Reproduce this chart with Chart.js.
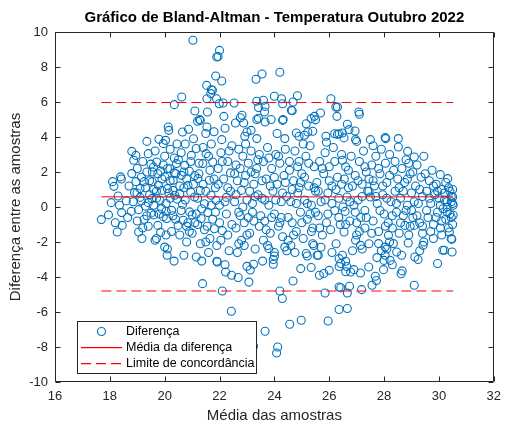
<!DOCTYPE html>
<html>
<head>
<meta charset="utf-8">
<script src="https://cdn.jsdelivr.net/npm/chart.js@4.4.0/dist/chart.umd.min.js"></script>
<style>
html,body{margin:0;padding:0;background:#fff;}
#wrap{width:508px;height:425px;}
</style>
</head>
<body>
<div id="wrap"><canvas id="c" width="508" height="425"></canvas></div>
<script>
// ---- data ----
const chartTitle = 'Gráfico de Bland-Altman - Temperatura Outubro 2022';
const xLabel = 'Média das amostras';
const yLabel = 'Diferença entre as amostras';
const legendLabels = ['Diferença', 'Média da diferença', 'Limite de concordância'];
const meanDiff = 0.58;
const upperLimit = 5.97;
const lowerLimit = -4.80;
const xTickRange = [16, 32, 2];
const yTickRange = [-10, 10, 2];

const pts17 = [[17.69,-0.72],[18.15,1.18],[18.27,-1.43],[18.30,0.63],[18.39,1.72],[18.42,1.60],[18.43,-0.32],[18.45,-1.05],[17.95,-0.45],[18.05,0.25],[18.20,-0.90],[18.35,0.10],[18.10,1.45]];
const pts18 = [[18.78,-0.25],[18.80,1.91],[18.80,3.18],[18.87,2.67],[18.90,0.82],[18.99,0.80],[19.05,-1.43],[19.17,-1.80],[19.35,3.75],[18.60,0.35],[18.65,-0.60],[18.70,1.20],[18.85,0.30],[18.95,1.45],[19.00,2.20],[19.05,-0.15],[19.10,0.55],[19.15,1.70],[19.20,2.60],[19.25,-0.70],[19.30,1.10],[19.30,0.05],[19.35,2.00],[19.40,-1.10],[19.40,3.05],[19.45,0.70],[19.45,1.50],[19.50,-0.35],[19.50,2.45],[19.20,-1.20],[18.95,2.95],[19.10,1.05],[19.35,-0.50],[19.00,-0.80]];
const pts19 = [[19.53,0.48],[19.59,2.29],[19.65,-1.90],[19.70,-1.80],[19.71,2.57],[19.77,1.24],[19.79,3.87],[19.83,0.38],[19.89,-0.09],[19.95,3.62],[20.00,-2.29],[20.01,1.72],[20.03,3.81],[20.07,-0.66],[20.09,-2.76],[20.10,-2.40],[20.13,4.57],[20.15,4.38],[20.19,2.19],[20.25,-0.19],[20.31,1.53],[20.34,-3.09],[20.35,5.85],[20.37,0.67],[20.43,2.48],[20.49,-1.05],[19.55,1.45],[19.60,-0.45],[19.65,3.20],[19.70,0.90],[19.75,-1.05],[19.85,2.05],[19.90,1.60],[19.95,-0.55],[20.00,2.90],[20.05,0.20],[20.10,1.05],[20.20,3.30],[20.25,-1.40],[20.30,0.95],[20.35,2.80],[20.40,-0.70],[20.45,3.60],[20.20,0.50],[19.60,0.10],[20.40,1.90],[19.85,-1.45],[20.05,-1.60]];
const pts20 = [[20.55,0.76],[20.61,1.81],[20.62,6.29],[20.65,4.29],[20.67,-0.76],[20.70,-2.76],[20.73,2.38],[20.80,-2.00],[20.85,1.24],[20.87,4.44],[20.91,-0.28],[20.97,2.95],[21.03,9.53],[21.09,0.57],[21.10,5.49],[21.15,-2.86],[21.15,3.34],[21.20,4.90],[21.21,1.62],[21.27,5.00],[21.30,4.95],[21.30,-2.10],[21.33,-0.66],[21.35,-3.09],[21.38,-4.38],[21.39,2.48],[21.45,0.19],[21.50,-2.00],[21.51,3.05],[20.55,-1.60],[20.60,3.10],[20.65,0.15],[20.75,3.60],[20.80,-1.10],[20.90,2.05],[20.95,0.85],[21.00,-1.50],[21.05,3.90],[21.10,1.80],[21.15,-0.40],[21.25,2.50],[21.30,0.95],[21.40,1.30],[21.45,-1.30],[21.50,4.20],[20.70,1.10],[21.00,-0.45],[20.85,-0.90],[21.20,-1.00]];
const pts21 = [[21.53,6.95],[21.54,6.19],[21.54,4.57],[21.56,5.43],[21.57,-0.32],[21.63,1.53],[21.68,6.48],[21.69,0.67],[21.70,6.70],[21.74,6.67],[21.75,2.57],[21.81,-1.24],[21.86,7.49],[21.87,0.38],[21.89,6.19],[21.90,8.57],[21.90,-3.10],[21.92,-3.14],[21.95,8.60],[21.99,5.90],[22.00,8.95],[22.08,7.20],[22.08,3.85],[22.10,-4.80],[22.13,5.94],[22.16,5.18],[22.20,-3.30],[22.22,-3.71],[22.43,-5.96],[22.44,-3.90],[21.60,2.90],[21.65,-1.80],[21.70,3.60],[21.75,-0.70],[21.80,4.30],[21.85,1.10],[21.90,-2.20],[21.95,2.20],[22.00,0.10],[22.05,3.10],[22.10,-1.35],[22.15,1.60],[22.20,4.50],[22.25,-0.40],[22.30,2.60],[22.35,-2.50],[22.40,0.90],[22.45,3.50],[22.30,-1.60],[22.40,1.95],[22.00,-0.90],[21.60,-2.60],[22.25,0.55]];
const pts22 = [[22.53,5.94],[22.58,4.80],[22.68,-4.03],[22.70,-2.10],[22.76,5.10],[22.80,-1.90],[22.82,5.24],[22.88,4.80],[22.90,-2.20],[22.92,4.04],[23.00,4.29],[23.00,-3.39],[23.07,-4.29],[23.12,-3.60],[23.15,4.38],[23.24,-3.27],[23.24,-7.96],[23.33,7.30],[23.36,6.04],[23.36,5.00],[23.36,3.91],[23.42,5.68],[23.42,5.07],[22.55,0.30],[22.60,-1.20],[22.60,2.40],[22.65,1.50],[22.70,3.30],[22.75,-0.50],[22.80,0.95],[22.85,2.90],[22.90,-0.90],[22.95,1.80],[23.00,0.40],[23.05,2.50],[23.10,-1.50],[23.15,3.20],[23.20,-0.30],[23.25,1.30],[23.30,-2.40],[23.35,2.20],[23.40,0.70],[23.45,-1.10],[23.45,3.00],[22.65,-2.60],[23.05,-0.60],[23.30,1.90],[22.95,3.60],[23.20,0.20]];
const pts23 = [[23.55,7.60],[23.57,-3.09],[23.60,6.10],[23.60,-1.90],[23.64,5.43],[23.66,5.75],[23.66,4.86],[23.66,-7.10],[23.80,-2.38],[23.88,5.00],[23.96,-3.00],[23.96,-3.27],[24.00,6.33],[24.00,-2.80],[24.00,-2.60],[24.08,-8.34],[24.12,-8.00],[24.20,7.70],[24.20,-4.80],[24.26,6.19],[24.29,-5.23],[24.30,5.90],[24.30,4.95],[24.32,5.00],[24.38,3.91],[24.38,-2.29],[24.45,-2.50],[23.55,0.50],[23.60,2.60],[23.65,-0.80],[23.70,1.60],[23.75,3.40],[23.80,0.10],[23.85,-1.50],[23.90,2.20],[23.95,0.90],[24.00,-0.40],[24.05,3.00],[24.10,1.30],[24.15,-1.10],[24.20,2.50],[24.25,0.30],[24.30,-1.70],[24.35,1.80],[24.40,3.30],[24.45,0.60],[23.75,-2.20],[24.10,4.20],[23.85,1.20],[24.25,-0.60]];
const pts24 = [[24.50,-1.90],[24.56,-6.70],[24.60,-2.20],[24.62,5.53],[24.65,5.50],[24.68,6.00],[24.68,-4.23],[24.80,4.23],[24.84,6.36],[24.90,4.04],[24.96,-3.52],[24.98,-6.47],[25.10,4.10],[25.16,4.76],[25.16,-2.66],[25.20,-2.80],[25.22,4.29],[25.34,5.05],[25.34,-3.46],[25.40,4.33],[25.40,-2.10],[25.44,-2.20],[25.46,5.18],[25.50,4.98],[24.55,2.10],[24.60,0.30],[24.65,-0.90],[24.70,1.50],[24.75,3.20],[24.80,-1.40],[24.85,0.80],[24.90,2.60],[24.95,-0.30],[25.00,1.90],[25.05,-1.80],[25.10,0.40],[25.15,2.90],[25.20,-0.70],[25.25,1.20],[25.30,3.50],[25.35,0.10],[25.40,-1.20],[25.45,2.30],[25.50,0.90],[24.75,-2.60],[25.05,3.60],[25.30,-0.40],[24.90,1.10]];
const pts25 = [[25.56,-2.76],[25.60,-2.76],[25.64,-3.90],[25.68,5.37],[25.80,-3.80],[25.85,-4.91],[25.88,4.04],[25.96,-6.51],[26.00,-3.62],[26.06,6.19],[26.20,4.19],[26.24,5.71],[26.28,5.18],[26.30,5.71],[26.30,4.15],[26.36,4.19],[26.36,-4.57],[26.36,-5.86],[26.36,-2.95],[26.36,-3.40],[26.42,-4.61],[26.42,-3.23],[26.48,-2.76],[26.48,4.23],[26.48,2.67],[25.55,1.40],[25.60,-0.50],[25.65,2.60],[25.70,0.30],[25.75,-1.60],[25.80,1.90],[25.85,3.10],[25.90,-0.90],[25.95,0.80],[26.00,2.30],[26.05,-1.30],[26.10,1.20],[26.15,3.40],[26.20,-0.20],[26.25,-2.10],[26.30,1.70],[26.35,0.50],[26.40,-1.00],[26.45,3.00],[25.70,-2.30],[26.10,-2.60],[25.90,3.70]];
const pts26 = [[26.54,3.95],[26.54,-1.43],[26.58,-0.25],[26.60,-3.10],[26.60,-3.70],[26.64,-3.40],[26.65,0.57],[26.66,4.73],[26.66,-4.91],[26.66,-5.80],[26.72,4.42],[26.74,-4.53],[26.78,-3.71],[26.90,-3.58],[26.90,0.10],[26.94,4.34],[26.96,3.85],[26.96,-1.90],[27.00,3.75],[27.00,-1.60],[27.08,5.43],[27.10,5.30],[27.14,-2.19],[27.14,-3.77],[27.18,-4.72],[27.20,-2.40],[27.44,-3.43],[27.50,3.85],[27.50,0.57],[26.55,1.60],[26.60,2.30],[26.70,1.10],[26.75,-0.80],[26.80,2.90],[26.85,-2.50],[26.95,1.80],[27.05,0.40],[27.10,2.60],[27.15,-0.60],[27.20,1.30],[27.25,3.20],[27.30,-1.20],[27.35,2.00],[27.40,0.90],[27.45,-2.10],[27.30,-0.20],[27.00,-0.90],[27.45,1.60]];
const pts27 = [[27.56,-4.47],[27.68,-3.96],[27.72,-4.20],[27.74,-2.89],[27.80,-2.09],[27.98,-3.58],[28.00,-3.05],[28.04,3.97],[28.04,-2.29],[28.04,-2.76],[28.06,3.91],[28.10,-2.40],[28.16,-1.62],[28.22,-3.05],[28.30,-3.30],[28.34,-2.09],[28.46,-2.57],[28.52,3.43],[28.52,3.91],[27.55,2.40],[27.60,-0.80],[27.65,1.20],[27.70,2.90],[27.75,0.20],[27.80,-1.40],[27.85,1.90],[27.90,3.30],[27.95,0.70],[28.00,-0.40],[28.05,2.50],[28.10,1.40],[28.15,-0.90],[28.20,3.00],[28.25,0.30],[28.30,-1.20],[28.35,2.10],[28.40,0.90],[28.45,-0.30],[28.50,1.60],[27.60,3.50],[28.20,-2.00],[27.90,-2.50]];
const pts28 = [[28.55,-1.50],[28.62,-3.81],[28.64,-2.76],[28.66,-3.65],[28.76,-1.05],[28.86,3.18],[28.88,-2.06],[29.10,2.86],[29.10,-4.47],[29.10,-1.05],[29.12,-2.86],[29.24,-3.00],[29.40,-1.50],[29.42,-2.19],[29.45,-2.00],[28.60,0.50],[28.65,2.20],[28.70,-0.50],[28.75,1.40],[28.80,2.70],[28.85,0.10],[28.90,-1.60],[28.95,1.90],[29.00,0.80],[29.05,-0.60],[29.15,1.20],[29.20,2.40],[29.25,0.20],[29.30,-0.90],[29.35,1.70],[29.40,0.60],[29.45,2.90],[29.30,-2.50],[28.90,2.50],[29.00,-0.20]];
const pts29 = [[29.80,-1.80],[29.95,-3.23],[30.05,1.85],[30.14,-2.47],[30.20,-2.47],[30.32,1.62],[30.38,-1.43],[30.48,-2.57],[30.50,0.57],[30.45,-1.80],[30.52,0.10],[30.52,-0.47],[30.47,-1.85],[29.55,0.90],[29.60,-0.60],[29.65,1.50],[29.70,0.20],[29.75,2.10],[29.80,-1.00],[29.85,0.70],[29.90,1.30],[29.95,-0.30],[30.00,0.50],[30.05,-1.20],[30.10,1.00],[30.15,-0.10],[30.20,0.80],[30.25,-0.70],[30.30,0.30],[30.35,1.10],[30.40,-0.40],[30.45,0.60],[30.50,-1.00],[30.40,0.90],[30.10,-0.80],[30.50,0.20]];
const ptsCore = [[19.15,0.35],[19.25,1.45],[19.40,0.25],[19.55,2.00],[19.60,1.00],[19.70,0.50],[19.75,1.90],[19.80,-0.40],[19.90,0.95],[19.95,2.40],[20.05,-0.25],[20.10,2.20],[20.15,0.80],[20.20,1.50],[20.30,-0.50],[20.35,1.95],[20.45,0.45],[20.50,2.70],[20.55,1.20],[20.60,-0.20],[20.70,2.00],[20.75,0.40],[20.80,1.60],[20.90,-1.40],[20.95,2.60],[21.05,1.30],[21.10,-0.90],[21.20,0.50],[21.25,1.90],[21.35,-0.10],[21.40,3.40],[21.50,0.90],[21.55,-1.10],[21.65,2.10],[21.70,0.10],[21.80,1.60],[21.85,-0.30],[21.95,1.30],[22.05,-1.90],[22.10,2.60],[22.20,0.30],[22.30,1.10],[22.35,3.20],[22.45,-1.00],[22.55,1.90],[22.60,0.70],[22.70,-0.30],[22.75,2.20],[22.85,0.00],[22.90,1.40],[23.00,-1.60],[23.10,0.90],[23.15,2.00],[23.25,-0.80],[23.30,0.60],[23.40,2.70],[23.50,-0.50],[23.55,1.50],[23.65,0.40],[23.70,-1.30],[23.80,2.80],[23.90,-0.60],[24.00,1.70],[24.05,0.40],[24.15,2.90],[24.20,-0.90],[24.30,0.80],[24.40,1.40],[24.50,-0.60],[24.55,2.60],[24.65,1.00],[24.70,-1.60],[24.80,0.20],[24.85,2.30],[24.95,1.40],[25.00,-0.90],[25.10,1.70],[25.20,0.20],[25.25,2.50],[25.35,-1.40],[25.45,1.10],[25.50,-0.30],[25.60,0.90],[25.65,-1.20],[25.75,2.20],[25.85,0.40],[25.95,-0.40],[26.00,1.50],[26.10,0.20],[26.20,2.60],[26.25,1.00],[26.35,-0.60],[26.45,1.30],[26.50,0.00],[26.60,-1.00],[26.70,2.10],[26.75,0.30],[26.85,1.20],[26.95,-0.30],[27.05,1.50],[27.10,-1.40],[27.20,0.60],[27.30,2.30],[27.35,-0.60],[27.45,0.90],[27.55,-1.50],[27.60,1.50],[27.70,0.60],[27.80,2.20],[27.85,-0.20],[27.95,1.20],[28.05,-1.10],[28.10,0.50],[28.20,1.80],[28.30,-0.50],[28.40,2.60],[28.45,0.20],[28.55,1.10],[28.60,-0.90],[28.70,0.90],[28.80,-0.20],[28.85,1.60],[28.95,-1.10],[29.05,2.00],[29.10,0.30],[29.20,-0.50],[29.30,1.00],[29.40,-1.10],[29.50,1.90],[29.55,-0.20],[29.65,0.50],[29.70,-1.40],[29.80,1.20],[29.90,-0.60],[29.95,0.90],[30.05,0.10],[30.10,-1.60],[30.20,0.40],[30.25,1.40],[30.30,-0.30],[30.35,-1.20],[30.45,0.30],[30.50,1.00],[30.30,0.00],[30.45,-0.60]];

const allPairs = [].concat(pts17, pts18, pts19, pts20, pts21, pts22, pts23, pts24, pts25, pts26, pts27, pts28, pts29, ptsCore);
const scatterData = allPairs.map(p => ({x: p[0], y: p[1]}));
const xMin = Math.min(...allPairs.map(p => p[0]));
const xMax = Math.max(...allPairs.map(p => p[0]));

// ---- styling ----
const FONT = "'Liberation Sans', Arial, Helvetica, sans-serif";
const BLUE = '#0072BD';
const RED = 'rgb(255,0,0)';
const AXIS = '#262626';

const framePlugin = {
  id: 'frame',
  afterDraw(chart) {
    const {ctx, chartArea: a, scales: {x, y}} = chart;
    ctx.save();
    ctx.strokeStyle = AXIS;
    ctx.lineWidth = 1;
    const L = Math.round(a.left) + 0.5, R = Math.round(a.right) - 0.5;
    const T = Math.round(a.top) + 0.5, B = Math.round(a.bottom) - 0.5;
    ctx.beginPath();
    ctx.rect(L, T, R - L, B - T);
    const tl = 5;
    x.ticks.forEach(t => {
      const px = Math.round(x.getPixelForValue(t.value)) + 0.5;
      ctx.moveTo(px, B); ctx.lineTo(px, B - tl);
      ctx.moveTo(px, T); ctx.lineTo(px, T + tl);
    });
    y.ticks.forEach(t => {
      const py = Math.round(y.getPixelForValue(t.value)) + 0.5;
      ctx.moveTo(L, py); ctx.lineTo(L + tl, py);
      ctx.moveTo(R, py); ctx.lineTo(R - tl, py);
    });
    ctx.stroke();
    ctx.restore();

    // legend box (bottom-left, inside axes)
    ctx.save();
    const bx = 77.5, by = 321.5, bw = 179, bh = 52;
    ctx.fillStyle = '#ffffff';
    ctx.fillRect(bx, by, bw, bh);
    ctx.strokeStyle = AXIS;
    ctx.lineWidth = 1;
    ctx.strokeRect(bx, by, bw, bh);
    const rows = [331.5, 347.5, 363.5];
    ctx.beginPath();
    ctx.strokeStyle = BLUE;
    ctx.lineWidth = 1.2;
    ctx.arc(101.5, rows[0], 4, 0, Math.PI * 2);
    ctx.stroke();
    ctx.restore();

    ctx.save();
    ctx.strokeStyle = RED;
    ctx.lineWidth = 1.3;
    ctx.beginPath();
    ctx.moveTo(81, rows[1] + 0.2); ctx.lineTo(122, rows[1] + 0.2);
    ctx.stroke();
    ctx.setLineDash([10, 5]);
    ctx.beginPath();
    ctx.moveTo(81, rows[2] + 0.2); ctx.lineTo(122, rows[2] + 0.2);
    ctx.stroke();
    ctx.restore();

    ctx.save();
    ctx.fillStyle = '#000';
    ctx.font = '12.5px ' + FONT;
    ctx.textBaseline = 'middle';
    ctx.textAlign = 'left';
    legendLabels.forEach((s, i) => ctx.fillText(s, 126, rows[i] + 0.5));
    ctx.restore();
  }
};

new Chart(document.getElementById('c'), {
  type: 'scatter',
  data: {
    datasets: [
      {
        label: legendLabels[1], type: 'line', showLine: true,
        data: [{x: xMin, y: meanDiff}, {x: xMax, y: meanDiff}],
        borderColor: RED, borderWidth: 1, pointRadius: 0, order: 0
      },
      {
        label: legendLabels[2], type: 'line', showLine: true,
        data: [{x: xMin, y: upperLimit}, {x: xMax, y: upperLimit}],
        borderColor: RED, borderWidth: 1, borderDash: [10, 5], pointRadius: 0, order: 0
      },
      {
        label: legendLabels[2] + ' ', type: 'line', showLine: true,
        data: [{x: xMin, y: lowerLimit}, {x: xMax, y: lowerLimit}],
        borderColor: RED, borderWidth: 1, borderDash: [10, 5], pointRadius: 0, order: 0
      },
      {
        label: legendLabels[0],
        data: scatterData,
        showLine: false,
        pointStyle: 'circle',
        pointRadius: 4,
        pointBorderWidth: 1.1,
        pointBackgroundColor: 'rgba(0,0,0,0)',
        pointBorderColor: BLUE,
        order: 1
      }
    ]
  },
  options: {
    responsive: false,
    animation: false,
    events: [],
    layout: {padding: {left: 0, right: 8, top: 0, bottom: 0}},
    plugins: {
      legend: {display: false},
      tooltip: {enabled: false},
      title: {
        display: true, text: chartTitle, color: '#000', fullSize: false,
        font: {family: FONT, size: 15, weight: 'bold', lineHeight: 1.2},
        padding: {top: 9, bottom: 5}
      }
    },
    scales: {
      x: {
        type: 'linear', min: xTickRange[0], max: xTickRange[1],
        grid: {display: false, drawTicks: false},
        border: {display: false},
        ticks: {stepSize: xTickRange[2], color: AXIS, font: {family: FONT, size: 13}, padding: 7, maxRotation: 0},
        title: {display: true, text: xLabel, color: AXIS, font: {family: FONT, size: 15, lineHeight: 1.2}, padding: {top: 0, bottom: 0}},
        afterFit(s) { s.height = 43; }
      },
      y: {
        type: 'linear', min: yTickRange[0], max: yTickRange[1],
        grid: {display: false, drawTicks: false},
        border: {display: false},
        ticks: {stepSize: yTickRange[2], color: AXIS, font: {family: FONT, size: 13}, padding: 7},
        title: {display: true, text: yLabel, color: AXIS, font: {family: FONT, size: 15, lineHeight: 1.2}, padding: {top: 7, bottom: 0}},
        afterFit(s) { s.width = 55; }
      }
    }
  },
  plugins: [framePlugin]
});
</script>
</body>
</html>
